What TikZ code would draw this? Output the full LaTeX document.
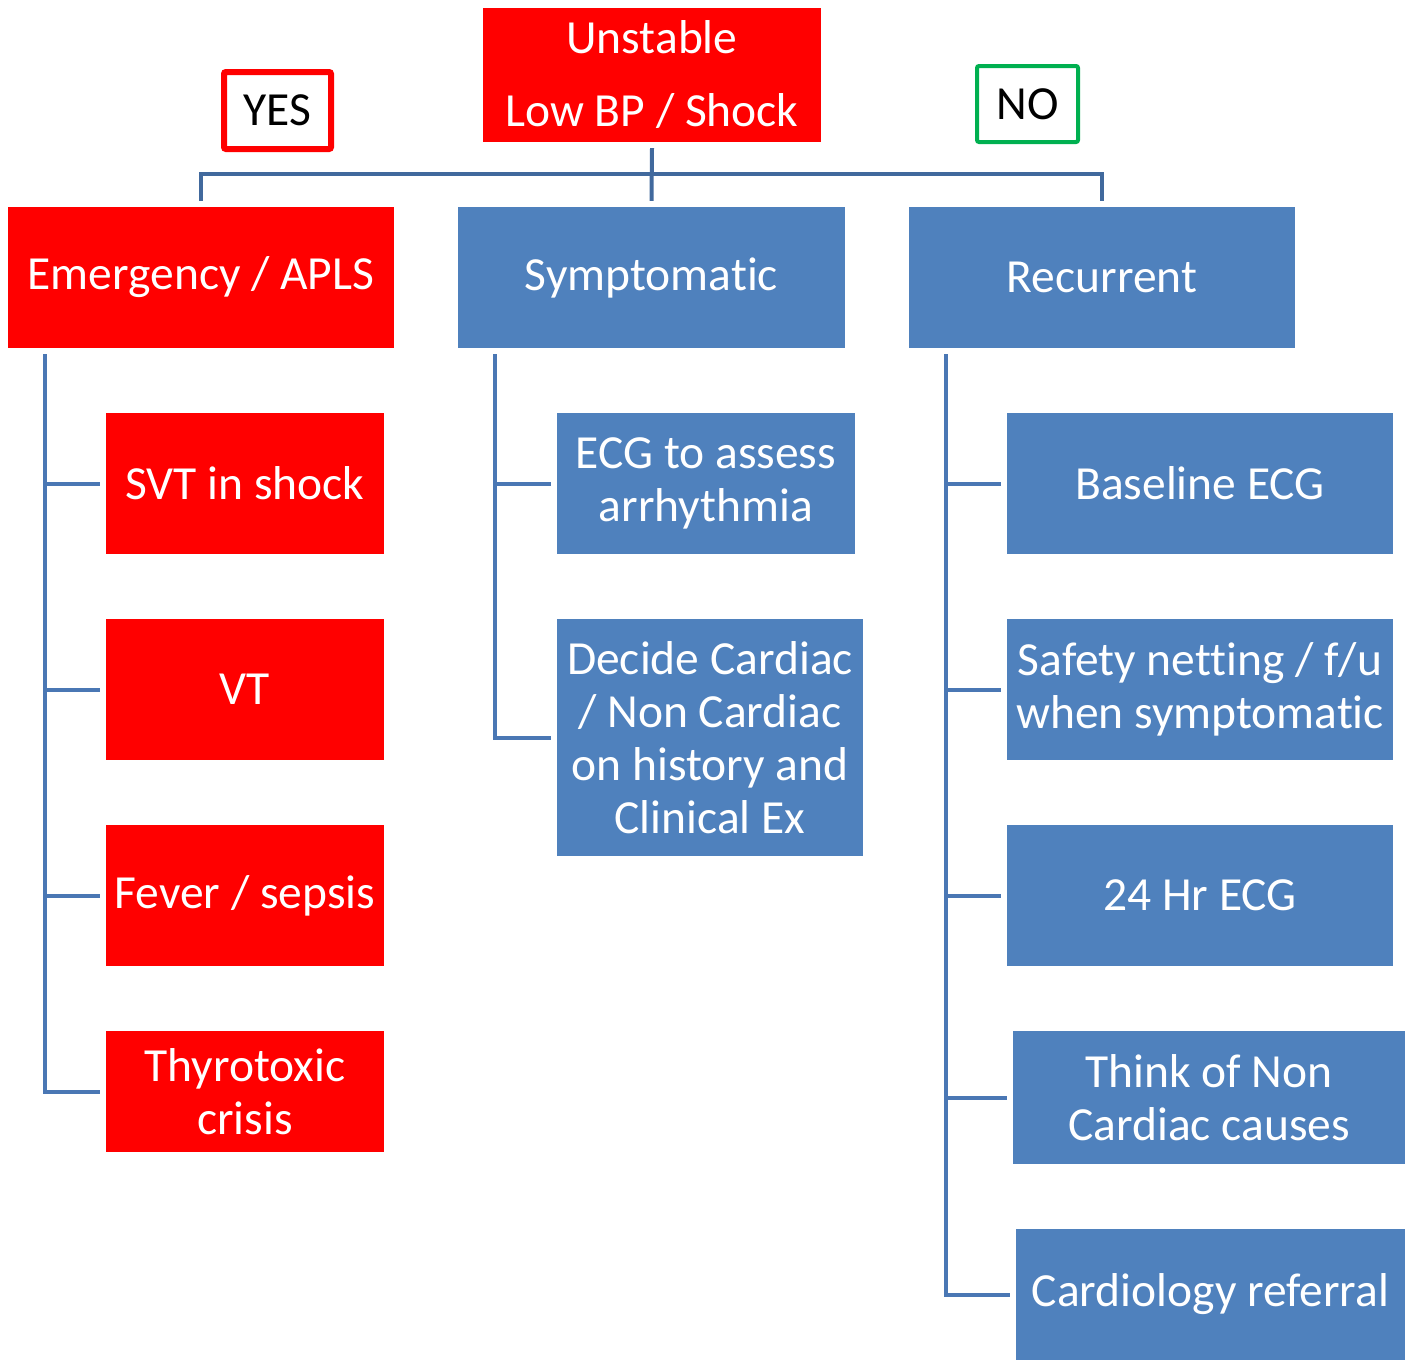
\documentclass[tikz,border=0pt]{standalone}
\usepackage{fontspec}
\setmainfont{Carlito}[Ligatures={NoCommon}]
\definecolor{boxred}{RGB}{255,0,0}
\definecolor{boxblue}{RGB}{79,129,189}
\definecolor{busblue}{RGB}{65,105,157}
\definecolor{colblue}{RGB}{74,119,180}
\definecolor{nogreen}{RGB}{0,176,80}
\tikzset{
  base/.style={inner sep=0pt, align=center, text=white, font=\fontsize{47.5}{53}\selectfont},
  redbox/.style={base, fill=boxred},
  bluebox/.style={base, fill=boxblue},
  busline/.style={draw=busblue, line width=4pt},
  colline/.style={draw=colblue, line width=4pt},
  tagbox/.style={inner sep=0pt, align=center, text=black, fill=white, rounded corners=2pt, font=\fontsize{47.5}{53}\selectfont},
}
\begin{document}
\begin{tikzpicture}[x=1pt,y=-1pt]
\useasboundingbox (0,0) rectangle (1408,1360);
% top
\node[redbox, minimum width=338pt, minimum height=134pt, font=\fontsize{47.5}{73}\selectfont] (top) at (652,75) {Unstable\\Low BP / Shock};
\node[tagbox, draw=boxred, line width=6pt, minimum width=107pt, minimum height=77pt] (yes) at (277.5,110.5) {YES};
\node[tagbox, draw=nogreen, line width=4pt, minimum width=101pt, minimum height=76pt] (no) at (1027.5,104) {NO};
% level 2
\node[redbox, minimum width=386pt, minimum height=141pt] (emerg) at (201,277.5) {Emergency / APLS};
\node[bluebox, minimum width=387pt, minimum height=141pt] (symp) at (651.5,277.5) {Symptomatic};
\node[bluebox, minimum width=386pt, minimum height=141pt] (recur) at (1102,277.5) {Recurrent};
% left column
\node[redbox, minimum width=278pt, minimum height=141pt] (svt) at (245,483.5) {SVT in shock};
\node[redbox, minimum width=278pt, minimum height=141pt] (vt) at (245,689.5) {VT};
\node[redbox, minimum width=278pt, minimum height=141pt] (fever) at (245,895.5) {Fever / sepsis};
\node[redbox, minimum width=278pt, minimum height=121pt] (thyro) at (245,1091.5) {Thyrotoxic\\crisis};
% middle column
\node[bluebox, minimum width=298pt, minimum height=141pt] (ecg) at (706,483.5) {ECG to assess\\arrhythmia};
\node[bluebox, minimum width=306pt, minimum height=237pt] (decide) at (710,737.5) {Decide Cardiac\\/ Non Cardiac\\on history and\\Clinical Ex};
% right column
\node[bluebox, minimum width=386pt, minimum height=141pt] (base) at (1200,483.5) {Baseline ECG};
\node[bluebox, minimum width=386pt, minimum height=141pt] (safety) at (1200,689.5) {Safety netting / f/u\\when symptomatic};
\node[bluebox, minimum width=386pt, minimum height=141pt] (hr) at (1200,895.5) {24 Hr ECG};
\node[bluebox, minimum width=392pt, minimum height=133pt] (think) at (1209,1097.5) {Think of Non\\Cardiac causes};
\node[bluebox, minimum width=389pt, minimum height=131pt] (cardio) at (1210.5,1294.5) {Cardiology referral};
% bus
\coordinate (busy) at (652,174);
\draw[busline] ([yshift=-6pt]top.south) -- ([yshift=6pt]symp.north);
\draw[busline] ([yshift=6pt]emerg.north) -- (emerg.north |- busy) -- (recur.north |- busy) -- ([yshift=6pt]recur.north);
% left column lines
\coordinate (lt) at (45,354);
\draw[colline] (lt) |- ([xshift=-6pt]thyro.west);
\foreach \n in {svt,vt,fever} \draw[colline] (\n.west -| lt) -- ([xshift=-6pt]\n.west);
% middle
\coordinate (mt) at (495,354);
\draw[colline] (mt) |- ([xshift=-6pt]decide.west);
\draw[colline] (ecg.west -| mt) -- ([xshift=-6pt]ecg.west);
% right
\coordinate (rt) at (946,354);
\draw[colline] (rt) |- ([xshift=-6pt]cardio.west);
\foreach \n in {base,safety,hr,think} \draw[colline] (\n.west -| rt) -- ([xshift=-6pt]\n.west);
\end{tikzpicture}
\end{document}
